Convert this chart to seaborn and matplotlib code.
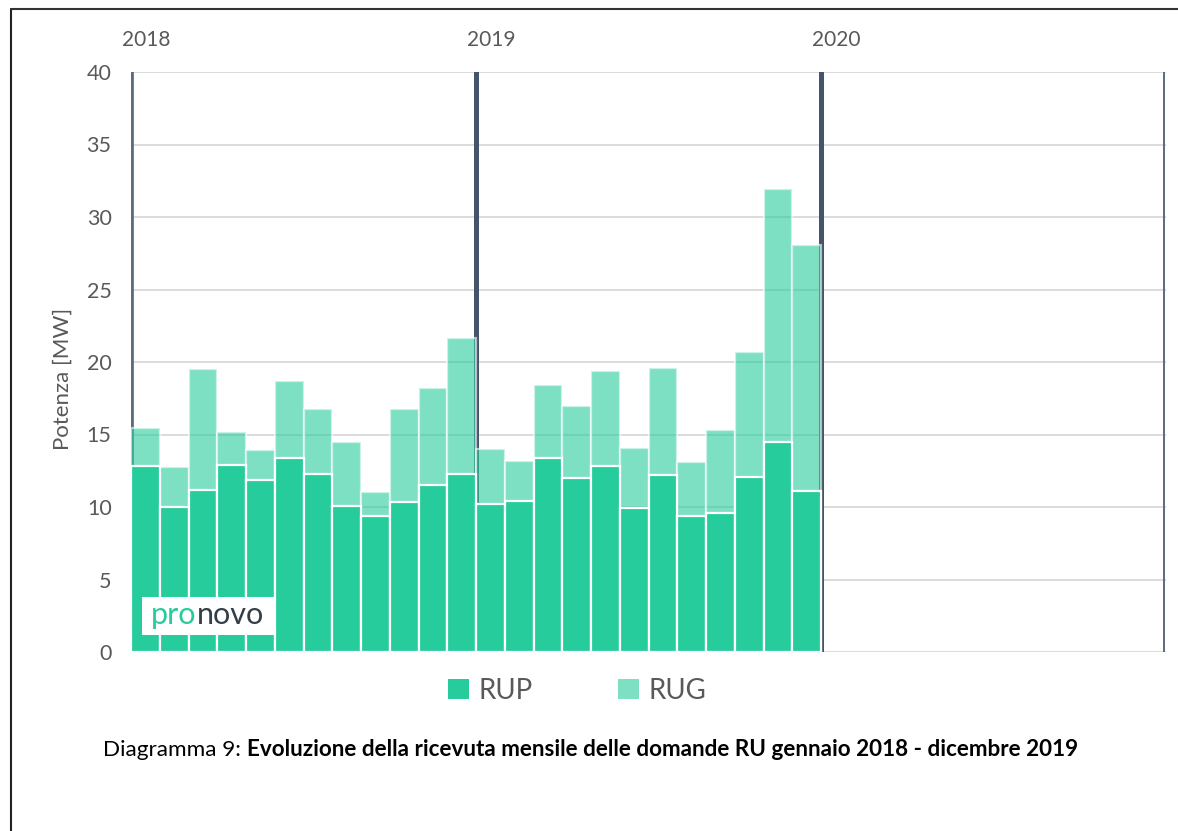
import matplotlib
matplotlib.use("Agg")
import matplotlib.pyplot as plt
import seaborn as sns
import numpy as np
from matplotlib.patches import Patch, Rectangle
from matplotlib.transforms import blended_transform_factory

# ---------------- data ----------------
months = ["2018-01", "2018-02", "2018-03", "2018-04", "2018-05", "2018-06",
          "2018-07", "2018-08", "2018-09", "2018-10", "2018-11", "2018-12",
          "2019-01", "2019-02", "2019-03", "2019-04", "2019-05", "2019-06",
          "2019-07", "2019-08", "2019-09", "2019-10", "2019-11", "2019-12"]
rup = [12.8, 10.0, 11.2, 12.9, 11.85, 13.35, 12.3, 10.05, 9.35, 10.35, 11.5, 12.25,
       10.2, 10.4, 13.4, 12.0, 12.85, 9.95, 12.2, 9.4, 9.6, 12.05, 14.5, 11.1]
rug = [2.65, 2.75, 8.3, 2.25, 2.05, 5.35, 4.45, 4.45, 1.7, 6.4, 6.7, 9.4,
       3.8, 2.8, 5.0, 5.0, 6.55, 4.15, 7.4, 3.7, 5.7, 8.65, 17.45, 16.95]
years = ["2018", "2019", "2020"]
yticks = [0, 5, 10, 15, 20, 25, 30, 35, 40]

GREEN = "#26CC9C"
SLATE = "#44546A"
GRAY = "#595959"

sns.set_theme(style="white")
plt.rcParams["font.family"] = ["Lato", "DejaVu Sans"]

fig = plt.figure(figsize=(11.78, 8.31), dpi=100)
ax = fig.add_axes([131 / 1178, 179 / 831, 1035 / 1178, 580 / 831])

total = [a + b for a, b in zip(rup, rug)]

sns.barplot(x=months, y=total, order=months, color=GREEN, alpha=0.6, width=1.0,
            edgecolor="white", linewidth=1.6, saturation=1, ax=ax, zorder=3)
sns.barplot(x=months, y=rup, order=months, color=GREEN, width=1.0,
            edgecolor="white", linewidth=1.6, saturation=1, ax=ax, zorder=4)

ax.set_xlim(-0.5, 35.5)
ax.set_ylim(0, 40)
ax.set_yticks(yticks)
ax.set_yticklabels([str(v) for v in yticks], fontsize=15.5, color=GRAY)
ax.set_xticks([])
ax.tick_params(axis="y", length=0, pad=14)
ax.set_xlabel("")
ax.set_ylabel("Potenza [MW]", fontsize=16, color=GRAY)
ax.yaxis.set_label_coords(-0.056, 0.47)
for s in ax.spines.values():
    s.set_visible(False)
ax.grid(axis="y", color="#D9D9D9", linewidth=1.3, zorder=0)
ax.set_axisbelow(True)

# year separators
ax.axvline(-0.5, color="#5A6B82", linewidth=3.4, zorder=1)
ax.axvline(11.5, color=SLATE, linewidth=3.6, zorder=1)
ax.axvline(23.5, color=SLATE, linewidth=3.6, zorder=1)
ax.axvline(35.44, color="#5A6B82", linewidth=1.4, zorder=1)
ax.axvline(35.56, color="#5A6B82", linewidth=1.4, zorder=1)

tr = blended_transform_factory(ax.transData, ax.transAxes)
for i, y in enumerate(years):
    ax.text(-0.5 + 12 * i - 0.3, 1.055, y, transform=tr, ha="left", va="center",
            fontsize=15, color=GRAY)

# logo
ax.add_patch(Rectangle((0.0106, 0.029), 0.1285, 0.0655, transform=ax.transAxes,
                       facecolor="white", edgecolor="none", zorder=6))
p1 = ax.text(0.0195, 0.064, "pro", transform=ax.transAxes, fontsize=22,
             fontweight="normal", color=GREEN, ha="left", va="center", zorder=7)
ax.annotate("novo", xy=(1, 0), xycoords=p1, ha="left", va="bottom",
            fontsize=22, fontweight="normal", color="#333F48", zorder=7)

# legend
handles = [Patch(facecolor=GREEN, edgecolor="none", label="RUP"),
           Patch(facecolor=GREEN, alpha=0.6, edgecolor="none", label="RUG")]
fig.legend(handles=handles, loc="center", bbox_to_anchor=(0.49, 0.169), ncol=2,
           frameon=False, fontsize=20, handlelength=0.75, handleheight=0.75,
           handletextpad=0.35, columnspacing=3.05, labelcolor=GRAY)

# caption
c1 = fig.text(103 / 1178, 1 - 750 / 831, "Diagramma 9: ", fontsize=16.2, color="black",
              ha="left", va="center")
fig.canvas.draw()
ax.annotate("Evoluzione della ricevuta mensile delle domande RU gennaio 2018 - dicembre 2019",
            xy=(1, 0), xycoords=c1, ha="left", va="bottom", fontsize=16.2,
            fontweight="bold", color="black", annotation_clip=False)

# page border
fig.add_artist(plt.Line2D([11 / 1178, 11 / 1178], [0, 1 - 9 / 831], color="#222222",
                          linewidth=1.5, transform=fig.transFigure))
fig.add_artist(plt.Line2D([11 / 1178, 1], [1 - 9 / 831, 1 - 9 / 831], color="#333333",
                          linewidth=1.5, transform=fig.transFigure))

fig.savefig("out.png", dpi=100)
